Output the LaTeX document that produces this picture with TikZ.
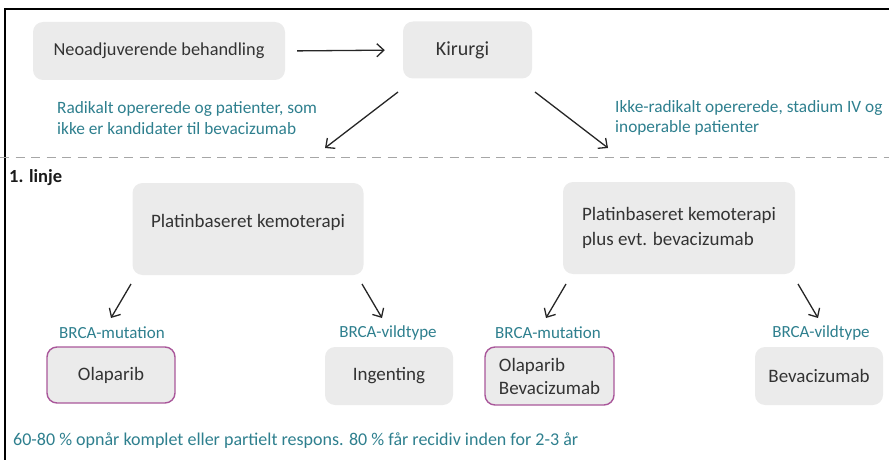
\documentclass[tikz,border=0pt]{standalone}
\usepackage{fontspec}
\setmainfont{Carlito}
\usetikzlibrary{arrows.meta}
\definecolor{boxgray}{HTML}{EBEBEB}
\definecolor{tealtxt}{HTML}{2E7F8E}
\definecolor{txtgray}{HTML}{333333}
\definecolor{pinkb}{HTML}{A9579A}
\begin{document}
\begin{tikzpicture}[x=1pt,y=-1pt,
  box/.style={fill=boxgray, rounded corners=10pt, text=txtgray, font=\fontsize{19}{23}\selectfont, inner sep=0pt},
  pbox/.style={box, draw=pinkb, line width=1.4pt},
  lab/.style={text=tealtxt, font=\fontsize{17}{20}\selectfont, inner sep=0pt},
  arr/.style={-{Straight Barb[length=7pt,width=13pt]}, line width=1.3pt, draw=black!85}]
\useasboundingbox (0,0) rectangle (889,460);
\draw[line width=2pt] (5,460) -- (5,9) -- (889,9);

% top row
\node[box, minimum width=252pt, minimum height=58pt, font=\fontsize{18.3}{22}\selectfont] (neo) at (159,51) {Neoadjuverende behandling};
\node[box, minimum width=129pt, minimum height=57pt, font=\fontsize{20}{24}\selectfont] (kir) at (467.5,50) {\hspace*{-10pt}Kirurgi};
\draw[arr, shorten <=12pt, shorten >=18pt] (neo.east) -- (kir.west);

\node[lab, anchor=west, align=left, font=\fontsize{17.3}{20.5}\selectfont] (radtxt) at (57,118) {Radikalt opererede og patienter, som\\ikke er kandidater til bevacizumab};
\node[lab, anchor=west, align=left, font=\fontsize{17.3}{20.5}\selectfont] (ikketxt) at (615,118) {Ikke-radikalt opererede, stadium IV og\\inoperable patienter};

\coordinate (k1s) at (398,92); \coordinate (k1e) at (325,148);
\coordinate (k2s) at (535,92); \coordinate (k2e) at (608,148);
\draw[arr] (k1s) -- (k1e);
\draw[arr] (k2s) -- (k2e);

% dashed separator
\coordinate (dl) at (0,157); \coordinate (dr) at (889,157);
\draw[black!35, line width=1pt, dash pattern=on 9pt off 6.5pt] (dl) -- (dr);

\node[anchor=west, inner sep=0pt, text=black!90, font=\bfseries\fontsize{18.5}{22}\selectfont] (linje) at (9,178) {1. linje};

% first line boxes
\node[box, minimum width=231pt, minimum height=92pt,
  label={[text=txtgray, font=\fontsize{19}{23}\selectfont, yshift=7pt]center:Platinbaseret kemoterapi}] (plat1) at (248,229) {};
\node[box, minimum width=232pt, minimum height=92pt, align=left, font=\fontsize{19}{25}\selectfont] (plat2) at (679,228) {Platinbaseret kemoterapi\\plus evt. bevacizumab};

\coordinate (a1s) at (131,284); \coordinate (a1e) at (111,318);
\coordinate (a2s) at (362,284); \coordinate (a2e) at (382,318);
\coordinate (a3s) at (566,284); \coordinate (a3e) at (546,318);
\coordinate (a4s) at (798,284); \coordinate (a4e) at (818,318);
\draw[arr] (a1s) -- (a1e);
\draw[arr] (a2s) -- (a2e);
\draw[arr] (a3s) -- (a3e);
\draw[arr] (a4s) -- (a4e);

\node[lab] (m1) at (112,333) {BRCA-mutation};
\node[lab] (w1) at (388,333) {BRCA-vildtype};
\node[lab] (m2) at (548,333) {BRCA-mutation};
\node[lab] (w2) at (821,333) {BRCA-vildtype};

\node[pbox, minimum width=128pt, minimum height=56pt] (ola) at (111,375) {Olaparib};
\node[box, minimum width=128pt, minimum height=58pt] (ing) at (389,376) {Ingenting};
\node[pbox, minimum width=129pt, minimum height=58pt, align=left] (olabev) at (549.5,376) {Olaparib\\Bevacizumab};
\node[box, minimum width=128pt, minimum height=58pt] (bev) at (819,376) {Bevacizumab};

\node[lab, anchor=west, font=\fontsize{18}{21}\selectfont] (bottom) at (13,441) {60-80 \% opnår komplet eller partielt respons. 80 \% får recidiv inden for 2-3 år};
\end{tikzpicture}
\end{document}
